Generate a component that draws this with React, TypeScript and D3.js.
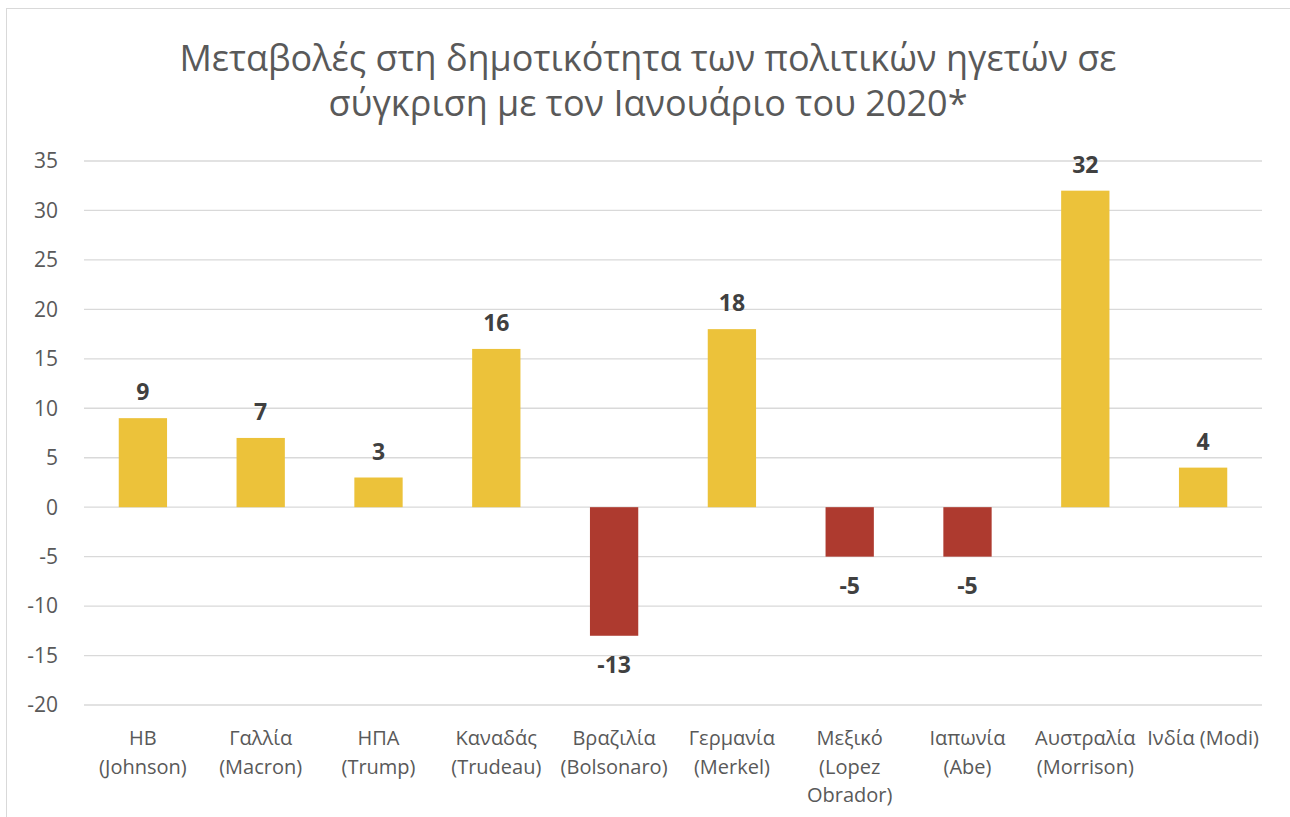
import React, { useRef, useEffect } from 'react';
import * as d3 from 'd3';

const categories: string[][] = [
  ['ΗΒ', '(Johnson)'],
  ['Γαλλία', '(Macron)'],
  ['ΗΠΑ', '(Trump)'],
  ['Καναδάς', '(Trudeau)'],
  ['Βραζιλία', '(Bolsonaro)'],
  ['Γερμανία', '(Merkel)'],
  ['Μεξικό', '(Lopez', 'Obrador)'],
  ['Ιαπωνία', '(Abe)'],
  ['Αυστραλία', '(Morrison)'],
  ['Ινδία (Modi)'],
];
const values: number[] = [9, 7, 3, 16, -13, 18, -5, -5, 32, 4];
const yTicks: number[] = [35, 30, 25, 20, 15, 10, 5, 0, -5, -10, -15, -20];
const titleLines: string[] = [
  'Μεταβολές στη δημοτικότητα των πολιτικών ηγετών σε',
  'σύγκριση με τον Ιανουάριο του 2020*',
];

const FONT = '"Open Sans", "Noto Sans", sans-serif';

const App = () => {
  const svgRef = useRef<SVGSVGElement>(null);

  useEffect(() => {
    const W = 1290;
    const H = 817;
    const margin = { top: 161, right: 28, bottom: 112, left: 84 };

    const svg = d3.select(svgRef.current)
      .attr('width', W)
      .attr('height', H)
      .style('display', 'block')
      .style('font-family', FONT);

    // chart frame
    svg.append('rect')
      .attr('x', 6.5).attr('y', 8.5)
      .attr('width', W + 20).attr('height', H + 20)
      .attr('fill', '#fff')
      .attr('stroke', '#d9d9d9');

    svg.append('g')
      .selectAll('text')
      .data(titleLines)
      .enter()
      .append('text')
      .attr('x', 648)
      .attr('y', (d, i) => 71 + i * 45)
      .attr('text-anchor', 'middle')
      .style('font-size', '36px')
      .attr('fill', '#595959')
      .text(d => d);

    const x = d3.scaleBand<number>()
      .domain(d3.range(values.length))
      .range([margin.left, W - margin.right])
      .paddingInner(0.59)
      .paddingOuter(0.295);

    const y = d3.scaleLinear()
      .domain([-20, 35])
      .range([H - margin.bottom, margin.top]);

    // gridlines
    svg.append('g')
      .selectAll('line')
      .data(yTicks)
      .enter()
      .append('line')
      .attr('x1', margin.left)
      .attr('x2', W - margin.right)
      .attr('y1', d => y(d))
      .attr('y2', d => y(d))
      .attr('stroke', '#d9d9d9')
      .attr('stroke-width', 1.3);

    // y tick labels
    svg.append('g')
      .selectAll('text')
      .data(yTicks)
      .enter()
      .append('text')
      .attr('x', 58)
      .attr('y', d => y(d))
      .attr('dy', '0.35em')
      .attr('text-anchor', 'end')
      .style('font-size', '21px')
      .attr('fill', '#595959')
      .text(d => d);

    // bars
    svg.append('g')
      .selectAll('rect')
      .data(values)
      .enter()
      .append('rect')
      .attr('x', (d, i) => x(i)!)
      .attr('width', x.bandwidth())
      .attr('y', d => y(Math.max(0, d)))
      .attr('height', d => Math.abs(y(d) - y(0)))
      .attr('fill', d => (d < 0 ? '#ae3a2f' : '#ecc23a'));

    // data labels
    svg.append('g')
      .selectAll('text')
      .data(values)
      .enter()
      .append('text')
      .attr('x', (d, i) => x(i)! + x.bandwidth() / 2)
      .attr('y', d => (d >= 0 ? y(d) - 26 : y(d) + 29))
      .attr('dy', '0.35em')
      .attr('text-anchor', 'middle')
      .style('font-size', '23px')
      .style('font-weight', 'bold')
      .attr('fill', '#404040')
      .text(d => d);

    // category labels
    const cat = svg.append('g')
      .selectAll('text')
      .data(categories)
      .enter()
      .append('text')
      .attr('text-anchor', 'middle')
      .style('font-size', '20px')
      .attr('fill', '#595959');

    cat.selectAll('tspan')
      .data((d, i) => d.map(line => ({ line, i })))
      .enter()
      .append('tspan')
      .attr('x', d => x(d.i)! + x.bandwidth() / 2)
      .attr('y', (d, j) => 745 + j * 28.5)
      .text(d => d.line);

    return () => {
      d3.select(svgRef.current).selectAll('*').remove();
    };
  }, []);

  return (
    <div style={{ position: 'absolute', left: 0, top: 0 }}>
      <svg ref={svgRef}></svg>
    </div>
  );
};

export default App;
